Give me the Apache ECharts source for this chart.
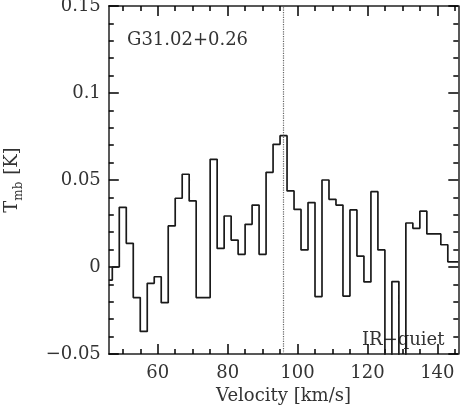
<!DOCTYPE html>
<html>
<head>
<meta charset="utf-8">
<script src="https://cdn.jsdelivr.net/npm/echarts@6/dist/echarts.min.js"></script>
<style>
  html, body { margin: 0; padding: 0; background: #fff; }
  #chart { width: 460px; height: 408px; }
</style>
</head>
<body>
<div id="chart"></div>
<script>
// channel centres (km/s) and main-beam temperature (K)
const velocity = [
  46, 48, 50, 52, 54, 56, 58, 60, 62, 64,
  66, 68, 70, 72, 74, 76, 78, 80, 82, 84,
  86, 88, 90, 92, 94, 96, 98, 100, 102, 104,
  106, 108, 110, 112, 114, 116, 118, 120, 122, 124,
  126, 128, 130, 132, 134, 136, 138, 140, 142, 144,
  146
];
const tmb = [
  -0.0075, 0.0, 0.0343, 0.0136, -0.0176, -0.037, -0.0094, -0.0056, -0.0205, 0.0236,
  0.0395, 0.0533, 0.038, -0.0176, -0.0176, 0.0619, 0.0107, 0.0293, 0.0155, 0.0073,
  0.0245, 0.0356, 0.0073, 0.0544, 0.0705, 0.0755, 0.0437, 0.0331, 0.0098, 0.037,
  -0.017, 0.05, 0.0389, 0.0356, -0.0167, 0.0328, 0.0063, -0.0086, 0.0433, 0.0098,
  -0.07, -0.0084, -0.07, 0.0253, 0.0222, 0.0321, 0.019, 0.019, 0.0128, 0.003,
  0.003
];
const xMajorTicks = [60, 80, 100, 120, 140];
const xMinorTicks = [50, 55, 65, 70, 75, 85, 90, 95, 105, 110, 115, 125, 130, 135, 145];
const yMajorTicks = [-0.05, 0, 0.05, 0.1, 0.15];
const yMinorTicks = [-0.04, -0.03, -0.02, -0.01, 0.01, 0.02, 0.03, 0.04,
  0.06, 0.07, 0.08, 0.09, 0.11, 0.12, 0.13, 0.14];
const systemicVelocity = 96;
const sourceName = 'G31.02+0.26';
const sourceClass = 'IR\u2212quiet';

const FONT = 'DejaVu Serif';
const INK = '#000';

const chart = echarts.init(document.getElementById('chart'));

// one axis = one set of inward ticks; IDL-style frame needs majors + minors on all four sides
const axisAt = (position, min, max, ticks, len, withLine) => ({
  type: 'value',
  min: min,
  max: max,
  position: position,
  splitLine: { show: false },
  axisLine: { show: withLine, onZero: false, lineStyle: { color: '#222', width: 1.5 } },
  axisTick: { show: true, inside: true, length: len, customValues: ticks, lineStyle: { color: INK, width: 1.5 } },
  axisLabel: { show: false },
});

const yFormat = v => {
  const r = +v.toFixed(2);
  return (r < 0 ? '\u2212' : '') + Math.abs(r);
};

const xMain = axisAt('bottom', 46, 146, xMajorTicks, 10, true);
xMain.axisLabel = {
  show: true, customValues: xMajorTicks, margin: 10,
  fontFamily: FONT, fontSize: 18, color: '#333'
};
xMain.name = 'Velocity [km/s]';
xMain.nameLocation = 'middle';
xMain.nameGap = 30;
xMain.nameTextStyle = { fontFamily: FONT, fontSize: 18, color: '#333' };

const yMain = axisAt('left', -0.05, 0.15, yMajorTicks, 10, true);
yMain.axisLabel = {
  show: true, customValues: yMajorTicks, margin: 8,
  fontFamily: FONT, fontSize: 18, color: '#333', formatter: yFormat
};

chart.setOption({
  animation: false,
  grid: { left: 108.8, right: 1.7, top: 6, bottom: 54, containLabel: false, outerBoundsMode: 'none' },
  xAxis: [
    xMain,
    axisAt('bottom', 46, 146, xMinorTicks, 5, false),
    axisAt('top', 46, 146, xMajorTicks, 10, true),
    axisAt('top', 46, 146, xMinorTicks, 5, false),
  ],
  yAxis: [
    yMain,
    axisAt('left', -0.05, 0.15, yMinorTicks, 5, false),
    axisAt('right', -0.05, 0.15, yMajorTicks, 10, true),
    axisAt('right', -0.05, 0.15, yMinorTicks, 5, false),
  ],
  graphic: [
    {
      type: 'text',
      x: 12, y: 180,
      rotation: Math.PI / 2,
      style: {
        text: '{t|T}{s|mb} [K]',
        align: 'center',
        verticalAlign: 'middle',
        fill: '#333',
        font: '18px ' + FONT,
        rich: {
          t: { fontFamily: FONT, fontSize: 18, fill: '#333', lineHeight: 26, verticalAlign: 'middle' },
          s: { fontFamily: FONT, fontSize: 12, fill: '#333', lineHeight: 26, verticalAlign: 'bottom', padding: [0, 1, 0, 0] },
        },
      },
    },
    {
      type: 'text',
      left: 127, top: 31,
      style: { text: sourceName, font: '18px ' + FONT, fill: '#333' },
    },
    {
      type: 'text',
      left: 362, top: 331,
      style: { text: sourceClass, font: '18px ' + FONT, fill: '#333' },
    },
  ],
  series: [
    {
      type: 'line',
      xAxisIndex: 0,
      yAxisIndex: 0,
      step: 'middle',
      showSymbol: false,
      clip: true,
      lineStyle: { color: '#1a1a1a', width: 1.7 },
      data: velocity.map((v, i) => [v, tmb[i]]),
      markLine: {
        silent: true,
        symbol: 'none',
        label: { show: false },
        lineStyle: { type: 'dotted', color: '#666', width: 1.2 },
        data: [{ xAxis: systemicVelocity }],
      },
    },
  ],
});
</script>
</body>
</html>
